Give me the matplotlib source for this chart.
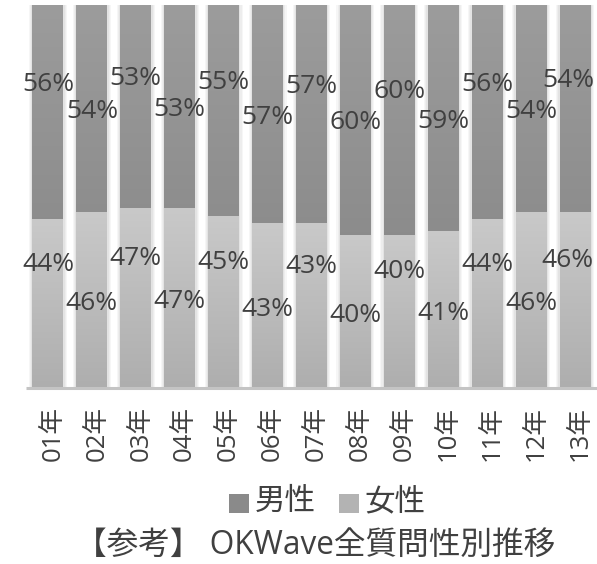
import matplotlib
matplotlib.use("Agg")
import matplotlib.pyplot as plt
import numpy as np
from matplotlib.patches import Rectangle
from matplotlib.colors import LinearSegmentedColormap
from matplotlib.transforms import ScaledTranslation

categories = ["01年", "02年", "03年", "04年", "05年", "06年", "07年",
              "08年", "09年", "10年", "11年", "12年", "13年"]
female = [44, 46, 47, 47, 45, 43, 43, 40, 40, 41, 44, 46, 46]
male = [56, 54, 53, 53, 55, 57, 57, 60, 60, 59, 56, 54, 54]
series_names = ["男性", "女性"]
title = "【参考】 OKWave全質問性別推移"

FONT = ["Open Sans", "Noto Sans CJK JP", "DejaVu Sans"]
plt.rcParams["font.family"] = FONT
TXT = "#404040"

W, H = 597, 564
fig = plt.figure(figsize=(W / 100, H / 100), dpi=100)
ax = fig.add_axes([26 / W, 176 / H, 571 / W, 383 / H])
ax.axis("off")

x = np.arange(len(categories))
bw = 0.705

male_cmap = LinearSegmentedColormap.from_list("m", ["#818181", "#9c9c9c"])
fem_cmap = LinearSegmentedColormap.from_list("f", ["#aeaeae", "#c9c9c9"])
grad = np.linspace(0, 1, 256).reshape(-1, 1)

# soft halo behind bars
for xi in x:
    for k, a in zip([0.16, 0.11, 0.06], [0.10, 0.12, 0.15]):
        ax.add_patch(Rectangle((xi - bw / 2 - k * 0.5, 0), bw + k, 100,
                               facecolor="#b0b0b0", edgecolor="none",
                               alpha=a, zorder=1))

bars_f = ax.bar(x, female, width=bw, color="none", zorder=2)
bars_m = ax.bar(x, male, width=bw, bottom=female, color="none", zorder=2)

for bars, cmap, full in [(bars_f, fem_cmap, False), (bars_m, male_cmap, True)]:
    for b in bars:
        x0, y0 = b.get_x(), b.get_y()
        w, h = b.get_width(), b.get_height()
        ext = (x0, x0 + w, 0, 100) if full else (x0, x0 + w, y0, y0 + h)
        im = ax.imshow(grad, cmap=cmap, origin="lower", aspect="auto",
                       extent=ext, zorder=3)
        im.set_clip_path(b)

ax.set_xlim(-0.5, 12.5)
ax.set_ylim(0, 100)

# baseline
ax.plot([-0.5, 12.5], [0, 0], color="#c4c4c4", lw=2.2, zorder=4,
        solid_capstyle="butt", clip_on=False)

# value labels
labels = []
for i in range(len(categories)):
    up = (i % 2 == 0)
    ym = female[i] + male[i] / 2 + (7.3 if up else -0.8)
    yf = female[i] / 2 + (10.3 if up else -1.0)
    labels.append(ax.text(x[i], ym, f"{male[i]}%", ha="center", va="center",
                          fontsize=19, color=TXT, zorder=5))
    labels.append(ax.text(x[i], yf, f"{female[i]}%", ha="center", va="center",
                          fontsize=19, color=TXT, zorder=5))

# keep labels inside the figure
fig.canvas.draw()
r = fig.canvas.get_renderer()
for t in labels:
    bb = t.get_window_extent(r)
    if bb.x1 > W - 3:
        dx = (bb.x1 - (W - 3)) / 100.0
        t.set_transform(t.get_transform() +
                        ScaledTranslation(-dx, 0, fig.dpi_scale_trans))

# category labels (rotated)
off = ScaledTranslation(5 / 100, 0, fig.dpi_scale_trans)
for i, c in enumerate(categories):
    ax.text(x[i], -4.6, c, rotation=90, ha="center", va="top",
            fontsize=18.5, color=TXT, clip_on=False,
            transform=ax.transData + off)

# legend
items = [("#8a8a8a", series_names[0]), ("#b3b3b3", series_names[1])]
positions = [(229, 255), (339, 364)]
for (col, name), (sx, tx) in zip(items, positions):
    fig.patches.append(Rectangle((sx / W, 1 - 513 / H), 20 / W, 19 / H,
                                 transform=fig.transFigure,
                                 facecolor=col, edgecolor="none"))
    fig.text(tx / W, 1 - 502 / H, name, ha="left", va="center",
             fontsize=22, color=TXT)

fig.text(315 / W, 1 - 545 / H, title, ha="center", va="center", fontsize=22.8,
         color=TXT)

fig.savefig("out.png", dpi=100, facecolor="white")
